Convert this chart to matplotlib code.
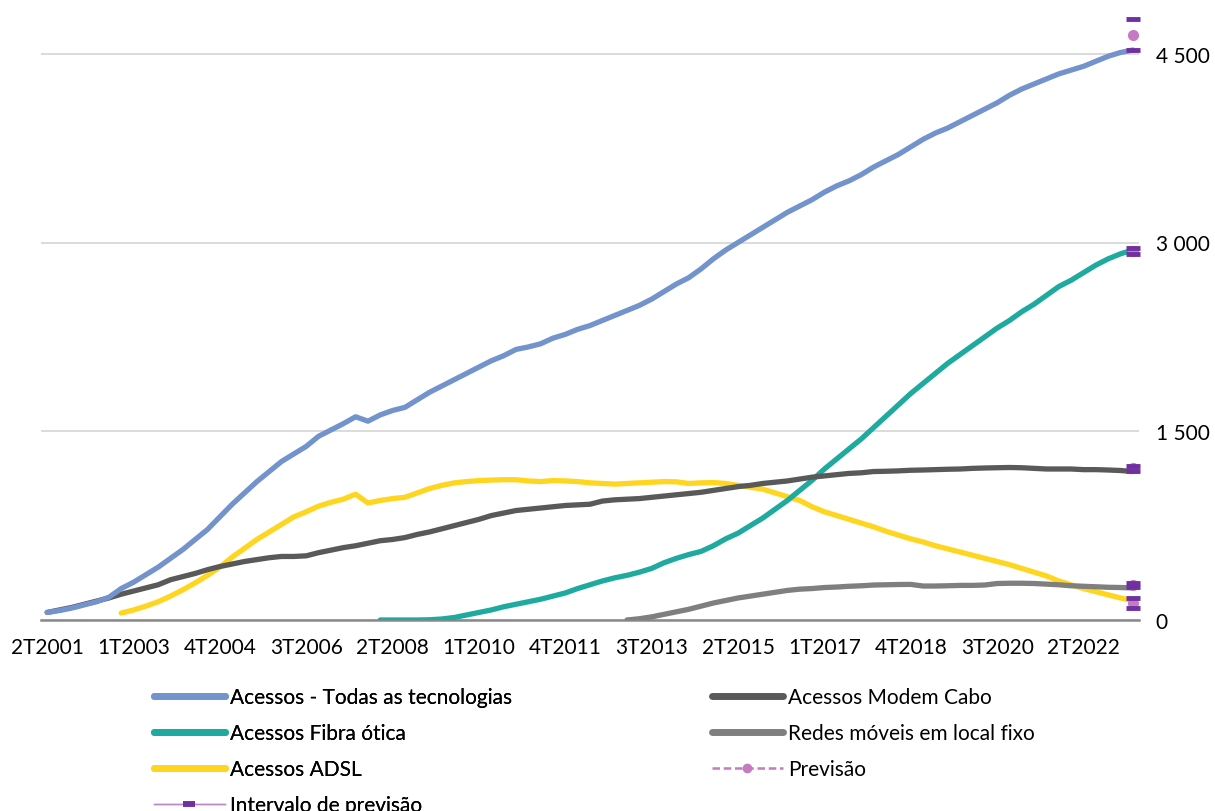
import matplotlib
matplotlib.use("Agg")
import matplotlib.pyplot as plt
from matplotlib.lines import Line2D

plt.rcParams['font.family'] = ['Lato', 'DejaVu Sans']

# quarters 2T2001 .. 2T2023
quarters = []
for y in range(2001, 2024):
    for q in range(1, 5):
        if (y == 2001 and q < 2) or (y == 2023 and q > 2):
            continue
        quarters.append(f"{q}T{y}")

todas = [60, 75, 95, 120, 145, 180, 250, 300, 360, 420, 490, 560, 640, 720, 820, 920, 1010, 1100,
         1180, 1260, 1320, 1380, 1460, 1510, 1560, 1615, 1580, 1630, 1665, 1690, 1750, 1810, 1860,
         1910, 1960, 2010, 2060, 2100, 2150, 2170, 2195, 2240, 2270, 2310, 2340, 2380, 2420, 2460,
         2500, 2550, 2610, 2670, 2720, 2790, 2870, 2940, 3000, 3060, 3120, 3180, 3240, 3290, 3340,
         3400, 3450, 3490, 3540, 3600, 3650, 3700, 3760, 3820, 3870, 3910, 3960, 4010, 4060, 4110,
         4170, 4220, 4260, 4300, 4340, 4370, 4400, 4440, 4480, 4510, 4530]

modem = [60, 80, 100, 125, 150, 175, 205, 230, 255, 280, 320, 345, 370, 400, 425, 445, 465, 480,
         495, 505, 505, 510, 535, 555, 575, 590, 610, 630, 640, 655, 680, 700, 725, 750, 775, 800,
         830, 850, 870, 880, 890, 900, 910, 915, 920, 945, 955, 960, 965, 975, 985, 995, 1005, 1015,
         1030, 1045, 1060, 1070, 1085, 1095, 1105, 1120, 1135, 1145, 1155, 1165, 1170, 1180, 1182,
         1185, 1190, 1192, 1195, 1198, 1200, 1205, 1208, 1210, 1212, 1210, 1205, 1200, 1200, 1200,
         1195, 1195, 1192, 1188, 1180]

adsl = [None] * 6 + [55, 80, 110, 145, 190, 240, 295, 355, 420, 500, 570, 640, 700, 760, 820,
        860, 905, 935, 960, 1000, 930, 950, 965, 975, 1010, 1045, 1070, 1090, 1100, 1108, 1112, 1115,
        1115, 1105, 1100, 1108, 1105, 1100, 1090, 1085, 1080, 1085, 1090, 1095, 1100, 1098, 1085,
        1090, 1092, 1085, 1070, 1055, 1040, 1010, 980, 950, 900, 860, 830, 800, 770, 740, 705, 675,
        645, 620, 590, 565, 540, 515, 490, 465, 440, 410, 380, 350, 310, 280, 250, 225, 200, 175, 155]

fibra = [None] * 27 + [0, 0, 0, 0, 2, 8, 20, 40, 60, 80, 105, 125, 145, 165, 190, 215, 250, 280,
         310, 335, 355, 380, 410, 455, 490, 520, 545, 590, 645, 690, 750, 810, 880, 950, 1030, 1110,
         1200, 1280, 1360, 1440, 1530, 1620, 1710, 1800, 1880, 1960, 2040, 2110, 2180, 2250, 2320,
         2380, 2450, 2510, 2580, 2650, 2700, 2760, 2820, 2870, 2910, 2940]

moveis = [None] * 47 + [0, 10, 25, 45, 65, 85, 110, 135, 155, 175, 190, 205, 220, 235, 245, 250,
          258, 262, 268, 272, 278, 280, 282, 283, 270, 270, 272, 275, 275, 278, 290, 292, 292, 290,
          285, 280, 272, 268, 264, 260, 258, 255]

# forecast for last quarter: point, lower, upper
prev = [4650, 2935, 1205, 278, 135]
prev_low = [4530, 2910, 1185, 260, 95]
prev_high = [4780, 2955, 1225, 295, 175]

x = list(range(len(quarters)))

fig = plt.figure(figsize=(12.15, 8.12), dpi=100)
ax = fig.add_axes([41 / 1215, 1 - 621 / 812, 1098 / 1215, 604 / 812])

c_todas = '#7393CD'
c_modem = '#595959'
c_fibra = '#1FAAA0'
c_moveis = '#7F7F7F'
c_adsl = '#FFD61F'
c_prev = '#C47BC1'
c_int = '#7030A0'

lw = 3.8
ax.plot(x, adsl, color=c_adsl, lw=lw, solid_capstyle='round', zorder=3)
ax.plot(x, moveis, color=c_moveis, lw=lw, solid_capstyle='round', zorder=3)
ax.plot(x, fibra, color=c_fibra, lw=lw, solid_capstyle='round', zorder=3)
ax.plot(x, modem, color=c_modem, lw=lw, solid_capstyle='round', zorder=3)
ax.plot(x, todas, color=c_todas, lw=lw, solid_capstyle='round', zorder=3)

last = x[-1]
for p, lo, hi in zip(prev, prev_low, prev_high):
    ax.plot([last], [p], 'o', color=c_prev, ms=7, zorder=5, clip_on=False)
    ax.plot([last, last], [lo, hi], '_', color=c_int, ms=9.5, mew=3.5, zorder=6, clip_on=False)

ax.set_xlim(-0.5, len(quarters) - 0.5)
ax.set_ylim(0, 4800)
ax.set_xticks(x[::7])
ax.set_xticklabels(quarters[::7])
ax.set_yticks([0, 1500, 3000, 4500])
ax.set_yticklabels(['0', '1 500', '3 000', '4 500'])
ax.yaxis.tick_right()
ax.tick_params(axis='both', length=0, labelsize=15, colors='black')
ax.tick_params(axis='x', pad=12)
ax.tick_params(axis='y', pad=12)
ax.grid(axis='y', color='#D9D9D9', lw=1.3)
ax.set_axisbelow(True)
for s in ['top', 'right', 'left']:
    ax.spines[s].set_visible(False)
ax.spines['bottom'].set_color('#898989')
ax.spines['bottom'].set_linewidth(1.8)

h1 = [Line2D([], [], color=c_todas, lw=5, solid_capstyle='round'),
      Line2D([], [], color=c_fibra, lw=5, solid_capstyle='round'),
      Line2D([], [], color=c_adsl, lw=5, solid_capstyle='round'),
      Line2D([], [], color='#C084C8', lw=1, marker='_', ms=9, mew=4, mfc=c_int, mec=c_int)]
l1 = ['Acessos - Todas as tecnologias', 'Acessos Fibra ótica', 'Acessos ADSL', 'Intervalo de previsão']
h2 = [Line2D([], [], color=c_modem, lw=5, solid_capstyle='round'),
      Line2D([], [], color=c_moveis, lw=5, solid_capstyle='round'),
      Line2D([], [], color=c_prev, lw=1.8, ls=(0, (3, 1.5)), marker='o', ms=6)]
l2 = ['Acessos Modem Cabo', 'Redes móveis em local fixo', 'Previsão']

leg1 = fig.legend(h1, l1, loc='upper left', bbox_to_anchor=(154 / 1215, 1 - 688 / 812),
                  frameon=False, fontsize=15, handlelength=3.4, handletextpad=0.25,
                  labelspacing=0.77, borderpad=0, borderaxespad=0)
leg2 = fig.legend(h2, l2, loc='upper left', bbox_to_anchor=(712 / 1215, 1 - 688 / 812),
                  frameon=False, fontsize=15, handlelength=3.4, handletextpad=0.25,
                  labelspacing=0.77, borderpad=0, borderaxespad=0)
fig.add_artist(leg1)

fig.savefig('out.png', dpi=100)
